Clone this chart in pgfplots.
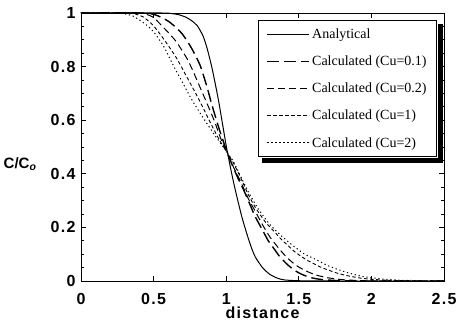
\documentclass[border=0pt]{standalone}
\usepackage{fontspec}
\setmainfont{Liberation Serif}
\newfontfamily\ticksf[LetterSpace=8]{Liberation Sans}
\newfontfamily\labsf{Liberation Sans}
\usepackage{pgfplots}
\pgfplotsset{compat=1.18}
\begin{document}
\begin{tikzpicture}
\begin{axis}[
  name=ax,
  scale only axis,
  width=363pt, height=268pt,
  xmin=0, xmax=2.5, ymin=0, ymax=1,
  xtick={0,0.5,1,1.5,2,2.5},
  ytick={0,0.2,0.4,0.6,0.8,1},
  minor y tick num=3,
  tick align=inside,
  major tick length=5pt,
  minor tick length=3pt,
  tick style={black, line width=0.7pt},
  axis line style={black, line width=0.9pt},
  /pgf/number format/assume math mode=true,
  ticklabel style={font=\ticksf\bfseries\fontsize{16}{18}\selectfont},
  xticklabel style={anchor=base, yshift=-24pt},
  yticklabel style={xshift=-2pt},
  every axis x label/.style={at={(rel axis cs:0.5,0)}, anchor=base, yshift=-38pt},
  xlabel={\ticksf\bfseries\fontsize{16}{18}\selectfont distance},
  every axis y label/.style={at={(rel axis cs:0,0.435)}, anchor=east, xshift=-41pt},
  ylabel={\labsf\bfseries\fontsize{15}{17}\selectfont C/C\textsubscript{\textit{o}}},
  legend cell align=left,
  legend style={at={(rel axis cs:0.981,0.974)}, anchor=north east,
    draw=black, line width=1pt, fill=white,
    font=\fontsize{14}{16}\selectfont, row sep=12pt, inner xsep=8pt, inner ysep=6pt},
  legend image code/.code={\draw[#1] (0pt,0pt) -- (42pt,0pt);},
]
\addplot[black, line width=1pt, smooth, tension=0.4] coordinates {
(0,1) (0.55,1) (0.62,0.998) (0.67,0.994) (0.72,0.985) (0.76,0.972) (0.8,0.953)
(0.84,0.915) (0.87,0.865) (0.9,0.80) (0.925,0.735) (0.95,0.665) (0.975,0.585)
(1.0,0.505) (1.025,0.435) (1.05,0.37) (1.08,0.30) (1.11,0.235) (1.14,0.18)
(1.17,0.13) (1.2,0.09) (1.25,0.05) (1.3,0.025) (1.35,0.011) (1.4,0.004)
(1.5,0.001) (1.7,0) (2.5,0)};
\addlegendentry{Analytical}
\addplot[black, line width=1.4pt, dash pattern=on 12pt off 5pt, smooth, tension=0.4] coordinates {
(0,1) (0.42,1) (0.5,0.995) (0.56,0.982) (0.61,0.966) (0.66,0.943) (0.7,0.92)
(0.76,0.87) (0.82,0.805) (0.87,0.72) (0.9,0.66) (0.95,0.57) (1.0,0.49)
(1.04,0.435) (1.08,0.385) (1.12,0.34) (1.16,0.29) (1.2,0.24) (1.25,0.19)
(1.29,0.15) (1.33,0.12) (1.37,0.09) (1.42,0.062) (1.47,0.04) (1.52,0.025)
(1.58,0.013) (1.65,0.006) (1.75,0.002) (1.9,0) (2.5,0)};
\addlegendentry{Calculated (Cu=0.1)}
\addplot[black, line width=1pt, dash pattern=on 7pt off 4pt, smooth, tension=0.4] coordinates {
(0,1) (0.38,1) (0.45,0.995) (0.5,0.983) (0.54,0.962) (0.61,0.922) (0.66,0.89)
(0.73,0.83) (0.77,0.785) (0.83,0.71) (0.87,0.66) (0.92,0.595) (0.96,0.535)
(1.0,0.485) (1.05,0.425) (1.1,0.37) (1.15,0.31) (1.2,0.26) (1.25,0.21)
(1.3,0.165) (1.35,0.13) (1.4,0.098) (1.45,0.072) (1.5,0.052) (1.56,0.035)
(1.62,0.022) (1.7,0.012) (1.8,0.005) (1.95,0.001) (2.1,0) (2.5,0)};
\addlegendentry{Calculated (Cu=0.2)}
\addplot[black, line width=0.9pt, dash pattern=on 3.5pt off 2.5pt, smooth, tension=0.4] coordinates {
(0,1) (0.33,1) (0.38,0.995) (0.43,0.985) (0.5,0.952) (0.58,0.895) (0.66,0.83)
(0.73,0.76) (0.8,0.69) (0.86,0.625) (0.92,0.56) (0.96,0.52) (1.0,0.485)
(1.05,0.44) (1.1,0.385) (1.15,0.325) (1.2,0.275) (1.27,0.22) (1.33,0.185)
(1.38,0.155) (1.43,0.13) (1.47,0.11) (1.55,0.08) (1.65,0.052) (1.76,0.03)
(1.85,0.018) (1.95,0.009) (2.1,0.003) (2.3,0.001) (2.5,0)};
\addlegendentry{Calculated (Cu=1)}
\addplot[black, line width=1pt, dash pattern=on 1.2pt off 2.8pt, smooth, tension=0.4] coordinates {
(0,1) (0.25,1) (0.3,0.997) (0.36,0.988) (0.44,0.96) (0.5,0.93) (0.57,0.875)
(0.64,0.80) (0.7,0.74) (0.77,0.67) (0.84,0.61) (0.92,0.545) (1.0,0.485)
(1.05,0.445) (1.1,0.39) (1.15,0.335) (1.22,0.27) (1.31,0.205) (1.43,0.145)
(1.54,0.10) (1.6,0.085) (1.71,0.055) (1.83,0.032) (1.94,0.017) (2.08,0.007)
(2.2,0.003) (2.35,0.001) (2.5,0)};
\addlegendentry{Calculated (Cu=2)}
\end{axis}
% legend shadow (thick right and bottom border)
\draw[black, line width=5pt] ([xshift=-4pt,yshift=-11pt]ax.north east) |- ([xshift=181pt,yshift=120.5pt]ax.south west);
\pgfresetboundingbox
\path[use as bounding box] (ax.south west) ++(-81pt,-47pt) rectangle ++(462pt,328pt);
\end{tikzpicture}
\end{document}
